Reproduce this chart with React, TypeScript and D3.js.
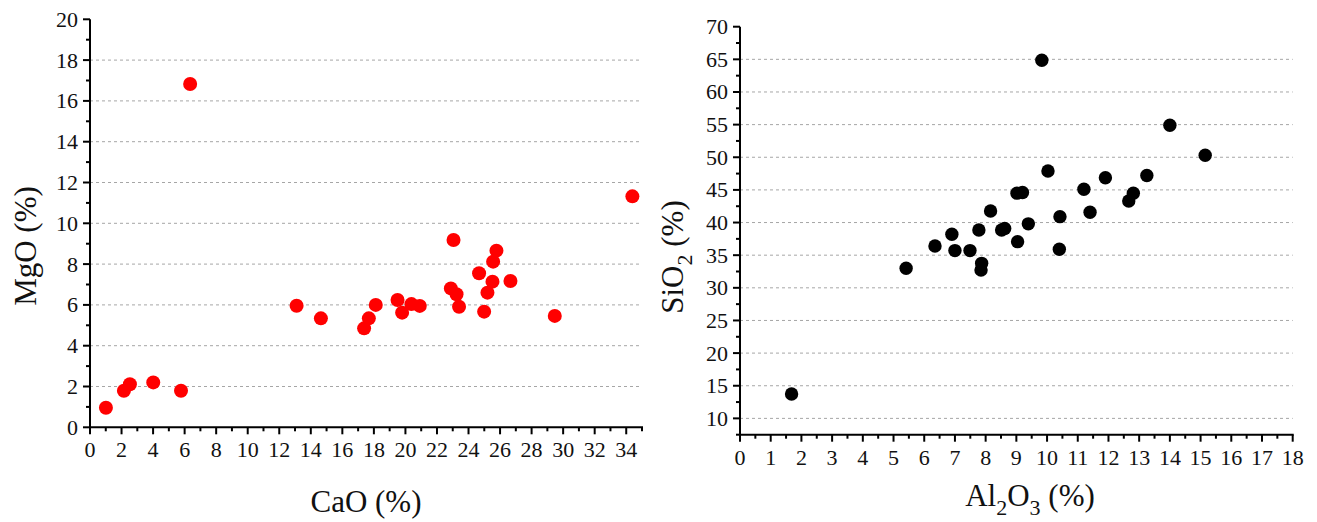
import React from "react";
import * as d3 from "d3";

// Left panel: CaO vs MgO
const caoValues = [6.35, 34.39, 23.05, 25.77, 25.56, 24.67, 25.52, 26.66, 22.88, 23.24, 25.2, 23.4, 24.99, 19.5, 19.79, 20.38, 20.91, 18.12, 17.68, 17.38, 14.64, 29.47, 13.1, 1.01, 2.15, 2.53, 4.01, 5.77];
const mgoValues = [16.83, 11.32, 9.18, 8.66, 8.12, 7.55, 7.14, 7.17, 6.81, 6.52, 6.6, 5.91, 5.67, 6.24, 5.62, 6.04, 5.95, 6.0, 5.34, 4.85, 5.34, 5.46, 5.96, 0.96, 1.79, 2.11, 2.2, 1.79];

// Right panel: Al2O3 vs SiO2
const al2o3Values = [9.83, 14.0, 15.15, 10.03, 11.9, 13.25, 11.2, 9.02, 9.2, 12.81, 12.66, 8.16, 11.4, 10.42, 8.52, 8.62, 9.39, 9.04, 10.4, 7.78, 6.9, 6.35, 7.0, 7.49, 5.41, 7.87, 7.85, 1.68];
const sio2Values = [64.85, 54.9, 50.3, 47.9, 46.87, 47.2, 45.1, 44.5, 44.6, 44.48, 43.3, 41.77, 41.57, 40.9, 38.85, 39.1, 39.8, 37.07, 35.9, 38.86, 38.2, 36.4, 35.7, 35.7, 32.99, 33.75, 32.73, 13.73];

const leftXTicks = d3.range(0, 35, 2);
const leftXMinor = d3.range(1, 36, 2);
const leftYTicks = d3.range(0, 21, 2);
const leftYMinor = d3.range(1, 20, 2);
const leftGrid = d3.range(2, 19, 2);

const rightXTicks = d3.range(0, 19, 1);
const rightXMinor = d3.range(0.5, 18, 1);
const rightYTicks = d3.range(10, 71, 5);
const rightYMinor = d3.range(7.5, 70, 5);
const rightGrid = d3.range(10, 66, 5);

const FONT = "'Liberation Serif', 'Times New Roman', serif";

type PanelProps = {
  xs: number[];
  ys: number[];
  xDomain: [number, number];
  yDomain: [number, number];
  xRange: [number, number];
  yRange: [number, number];
  xTicks: number[];
  xMinor: number[];
  yTicks: number[];
  yMinor: number[];
  grid: number[];
  color: string;
  r: number;
};

function Panel(p: PanelProps) {
  const x = d3.scaleLinear().domain(p.xDomain).range(p.xRange);
  const y = d3.scaleLinear().domain(p.yDomain).range(p.yRange);
  const x0 = p.xRange[0];
  const x1 = p.xRange[1];
  const y0 = p.yRange[0];
  const y1 = p.yRange[1];
  return (
    <g>
      {p.grid.map((v) => (
        <line key={"g" + v} x1={x0} x2={x1} y1={y(v)} y2={y(v)} stroke="#a6a6a6" strokeWidth={1} strokeDasharray="3,3" />
      ))}
      {p.xs.map((v, i) => (
        <circle key={"c" + i} cx={x(v)} cy={y(p.ys[i])} r={p.r} fill={p.color} />
      ))}
      <line x1={x0} x2={x0} y1={y0 + 1} y2={y1} stroke="#000" strokeWidth={2} />
      <line x1={x0 - 1} x2={x1 + 1} y1={y0} y2={y0} stroke="#000" strokeWidth={2} />
      {p.yTicks.map((v) => (
        <g key={"yt" + v}>
          <line x1={x0 - 7} x2={x0} y1={y(v)} y2={y(v)} stroke="#000" strokeWidth={2} />
          <text x={x0 - 12} y={y(v)} dy="0.34em" textAnchor="end" fontSize={22} fontFamily={FONT} fill="#111">{v}</text>
        </g>
      ))}
      {p.yMinor.map((v) => (
        <line key={"ym" + v} x1={x0 - 4} x2={x0} y1={y(v)} y2={y(v)} stroke="#000" strokeWidth={2} />
      ))}
      {p.xTicks.map((v) => (
        <g key={"xt" + v}>
          <line x1={x(v)} x2={x(v)} y1={y0} y2={y0 + 7} stroke="#000" strokeWidth={2} />
          <text x={x(v)} y={y0 + 30} textAnchor="middle" fontSize={22} fontFamily={FONT} fill="#111">{v}</text>
        </g>
      ))}
      {p.xMinor.map((v) => (
        <line key={"xm" + v} x1={x(v)} x2={x(v)} y1={y0} y2={y0 + 4} stroke="#000" strokeWidth={2} />
      ))}
    </g>
  );
}

export default function App() {
  return (
    <div style={{ position: "absolute", left: 0, top: 0 }}>
      <svg width={1317} height={522} style={{ display: "block", background: "#fff" }}>
        <Panel
          xs={caoValues}
          ys={mgoValues}
          xDomain={[0, 35]}
          yDomain={[0, 20]}
          xRange={[90, 642]}
          yRange={[427.3, 19.3]}
          xTicks={leftXTicks}
          xMinor={leftXMinor}
          yTicks={leftYTicks}
          yMinor={leftYMinor}
          grid={leftGrid}
          color="#ff0000"
          r={7}
        />
        <Panel
          xs={al2o3Values}
          ys={sio2Values}
          xDomain={[0, 18]}
          yDomain={[7.5, 70]}
          xRange={[740, 1292.7]}
          yRange={[434.7, 26.7]}
          xTicks={rightXTicks}
          xMinor={rightXMinor}
          yTicks={rightYTicks}
          yMinor={rightYMinor}
          grid={rightGrid}
          color="#000000"
          r={6.7}
        />
        <text x={366} y={512} textAnchor="middle" fontSize={31} fontFamily={FONT} fill="#111">CaO (%)</text>
        <text transform="translate(36,246) rotate(-90)" textAnchor="middle" fontSize={31} fontFamily={FONT} fill="#111">MgO (%)</text>
        <text x={1030} y={506} textAnchor="middle" fontSize={31} fontFamily={FONT} fill="#111">
          Al<tspan fontSize={22} dy={9}>2</tspan><tspan dy={-9}>O</tspan><tspan fontSize={22} dy={9}>3</tspan><tspan dy={-9}> (%)</tspan>
        </text>
        <text transform="translate(683,257) rotate(-90)" textAnchor="middle" fontSize={31} fontFamily={FONT} fill="#111">
          SiO<tspan fontSize={22} dy={9}>2</tspan><tspan dy={-9}> (%)</tspan>
        </text>
      </svg>
    </div>
  );
}
